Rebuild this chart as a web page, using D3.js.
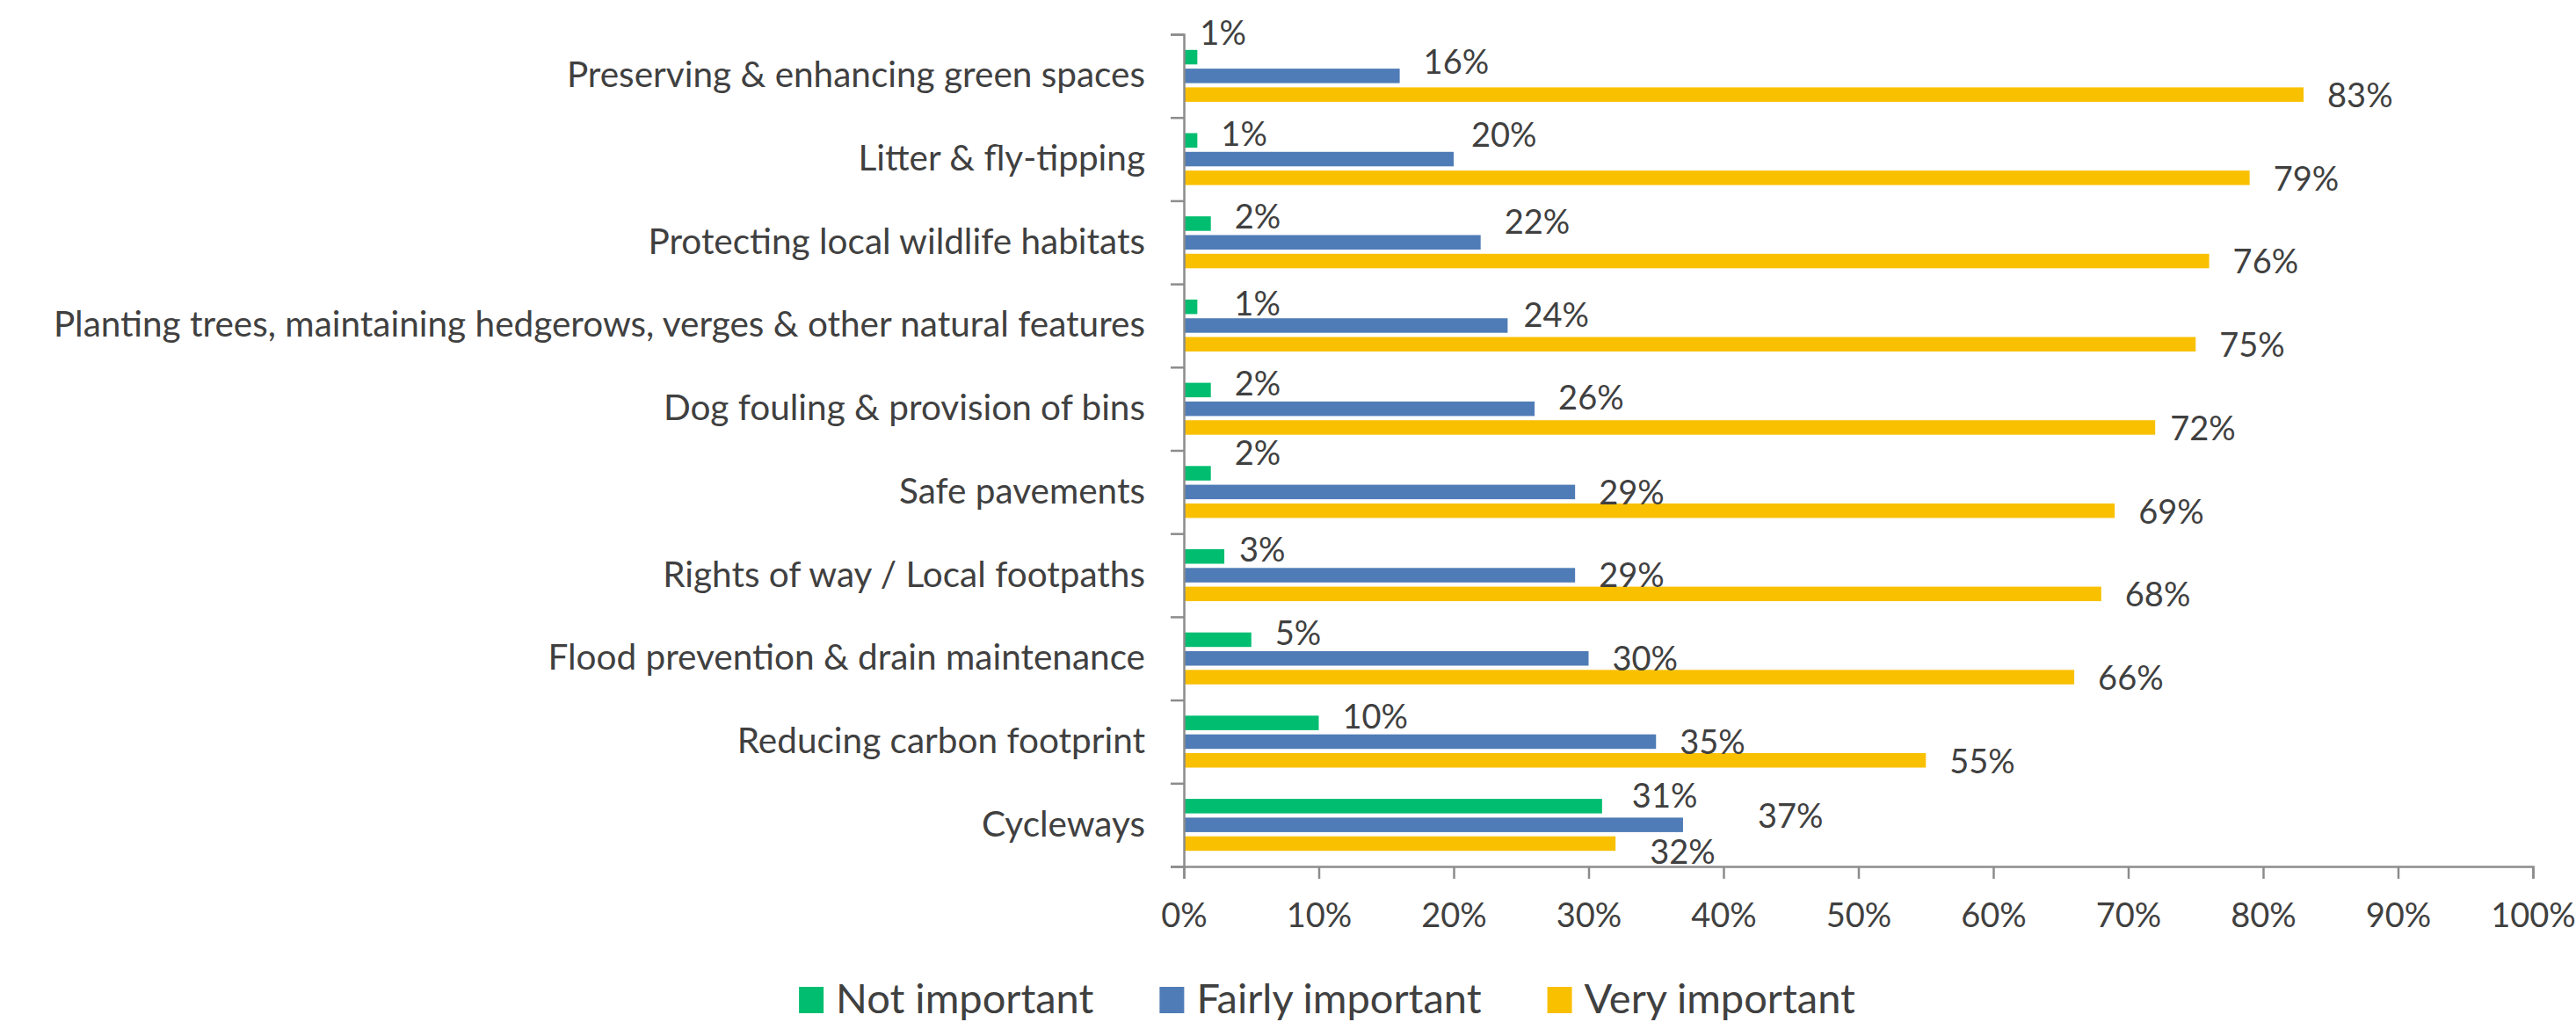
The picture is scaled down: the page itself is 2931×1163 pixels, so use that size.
<!DOCTYPE html>
<html>
<head>
<meta charset="utf-8">
<script src="https://cdn.jsdelivr.net/npm/d3@7"></script>
<style>
  html, body { margin: 0; padding: 0; background: #ffffff; }
  svg { display: block; }
  text { font-family: Lato, "Liberation Sans", sans-serif; fill: #404040; }
</style>
</head>
<body>
<svg id="chart" width="2931" height="1163"></svg>
<script>
// ---- data ----
const categories = [
  "Preserving & enhancing green spaces",
  "Litter & fly-tipping",
  "Protecting local wildlife habitats",
  "Planting trees, maintaining hedgerows, verges & other natural features",
  "Dog fouling & provision of bins",
  "Safe pavements",
  "Rights of way / Local footpaths",
  "Flood prevention & drain maintenance",
  "Reducing carbon footprint",
  "Cycleways"
];
const seriesNames = ["Not important", "Fairly important", "Very important"];
const notImportant    = [1, 1, 2, 1, 2, 2, 3, 5, 10, 31];
const fairlyImportant = [16, 20, 22, 24, 26, 29, 29, 30, 35, 37];
const veryImportant   = [83, 79, 76, 75, 72, 69, 68, 66, 55, 32];
const xTickValues = [0, 10, 20, 30, 40, 50, 60, 70, 80, 90, 100];

// ---- style ----
const seriesColors = ["#00BD70", "#4F7CB6", "#F9C000"];
const axisColor = "#8C8C8C";
const labelSize = 38, categorySize = 40.5, legendSize = 47;

// vertical placement of each series' value label relative to the category centre
const labelBaseOffset = [-29, 0, 22];
// hand-placed nudges for labels that would otherwise collide: [category, series, dx, dy]
const labelNudges = [
  [0, 0, -24, -20], [0, 1, 0, -16],
  [1, 1, -7, -28],
  [2, 1, 0, -23],
  [3, 0, 15, 4], [3, 1, -9, -12],
  [4, 1, 0, -13], [4, 2, -10, 0],
  [5, 0, 0, -16],
  [6, 0, -10, 0],
  [9, 0, 7, -4], [9, 1, 58, -10], [9, 2, 12, 9]
];

const seriesValues = [notImportant, fairlyImportant, veryImportant];
const rows = categories.map((c, i) => ({
  category: c,
  values: seriesNames.map((s, k) => ({ series: s, k, i, value: seriesValues[k][i] }))
}));

// ---- layout ----
const svg = d3.select("#chart");
const plot = { left: 1347, right: 2882, top: 39, bottom: 986 };

const x = d3.scaleLinear().domain([0, 100]).range([plot.left, plot.right]);
const y = d3.scaleBand().domain(categories).range([plot.top, plot.bottom]).padding(0);
const inner = d3.scaleBand().domain(seriesNames).range([-29.55, 29.55])
  .paddingInner(0.225).paddingOuter(0);
const color = d3.scaleOrdinal().domain(seriesNames).range(seriesColors);
const boundary = d3.scaleLinear().domain([0, categories.length]).range([plot.top, plot.bottom]);

// ---- bars ----
const groups = svg.append("g").selectAll("g").data(rows).join("g")
  .attr("transform", d => `translate(0,${y(d.category) + y.bandwidth() / 2})`);

groups.selectAll("rect").data(d => d.values).join("rect")
  .attr("x", x(0))
  .attr("y", d => inner(d.series))
  .attr("width", d => x(d.value) - x(0))
  .attr("height", inner.bandwidth())
  .attr("fill", d => color(d.series));

// ---- value labels ----
const nudge = (i, k) => {
  const n = labelNudges.find(a => a[0] === i && a[1] === k);
  return n ? { dx: n[2], dy: n[3] } : { dx: 0, dy: 0 };
};
groups.selectAll("text.value").data(d => d.values).join("text")
  .attr("class", "value")
  .attr("x", d => x(d.value) + 27 + nudge(d.i, d.k).dx)
  .attr("y", d => labelBaseOffset[d.k] + nudge(d.i, d.k).dy)
  .attr("dy", "0.36em")
  .attr("text-anchor", "start")
  .style("font-size", labelSize + "px")
  .text(d => d.value + "%");

// ---- x axis ----
const xAxis = svg.append("g")
  .attr("transform", `translate(0,${plot.bottom})`)
  .call(d3.axisBottom(x).tickValues(xTickValues).tickFormat(d => d + "%")
    .tickSize(14).tickPadding(28));

// ---- y axis: boundary ticks + category names ----
const yTicks = svg.append("g")
  .attr("transform", `translate(${plot.left},0)`)
  .call(d3.axisLeft(boundary).tickValues(d3.range(categories.length + 1))
    .tickFormat("").tickSize(15));

const yLabels = svg.append("g")
  .attr("transform", `translate(${plot.left},0)`)
  .call(d3.axisLeft(y).tickSize(0).tickPadding(44));
yLabels.select(".domain").remove();

[xAxis, yTicks, yLabels].forEach(g => {
  g.selectAll(".domain, .tick line").attr("stroke", axisColor).attr("stroke-width", 2.5);
  g.selectAll("text").attr("fill", "#404040")
    .style("font-family", 'Lato, "Liberation Sans", sans-serif')
    .style("font-size", labelSize + "px");
});
yLabels.selectAll("text").style("font-size", categorySize + "px");

// ---- legend ----
const legend = svg.append("g");
const items = legend.selectAll("g").data(seriesNames).join("g");
items.append("rect")
  .attr("width", 28).attr("height", 30).attr("y", 1123)
  .attr("fill", d => color(d));
items.append("text")
  .attr("y", 1153)
  .style("font-size", legendSize + "px")
  .text(d => d);

const textGap = 42, itemGap = 75;
const widths = [];
items.select("text").each(function () { widths.push(this.getComputedTextLength()); });
const total = d3.sum(widths) + seriesNames.length * textGap + (seriesNames.length - 1) * itemGap;
let cursor = 1510 - total / 2;
items.each(function (d, i) {
  d3.select(this).attr("transform", `translate(${cursor},0)`);
  d3.select(this).select("text").attr("x", textGap);
  cursor += textGap + widths[i] + itemGap;
});
</script>
</body>
</html>
